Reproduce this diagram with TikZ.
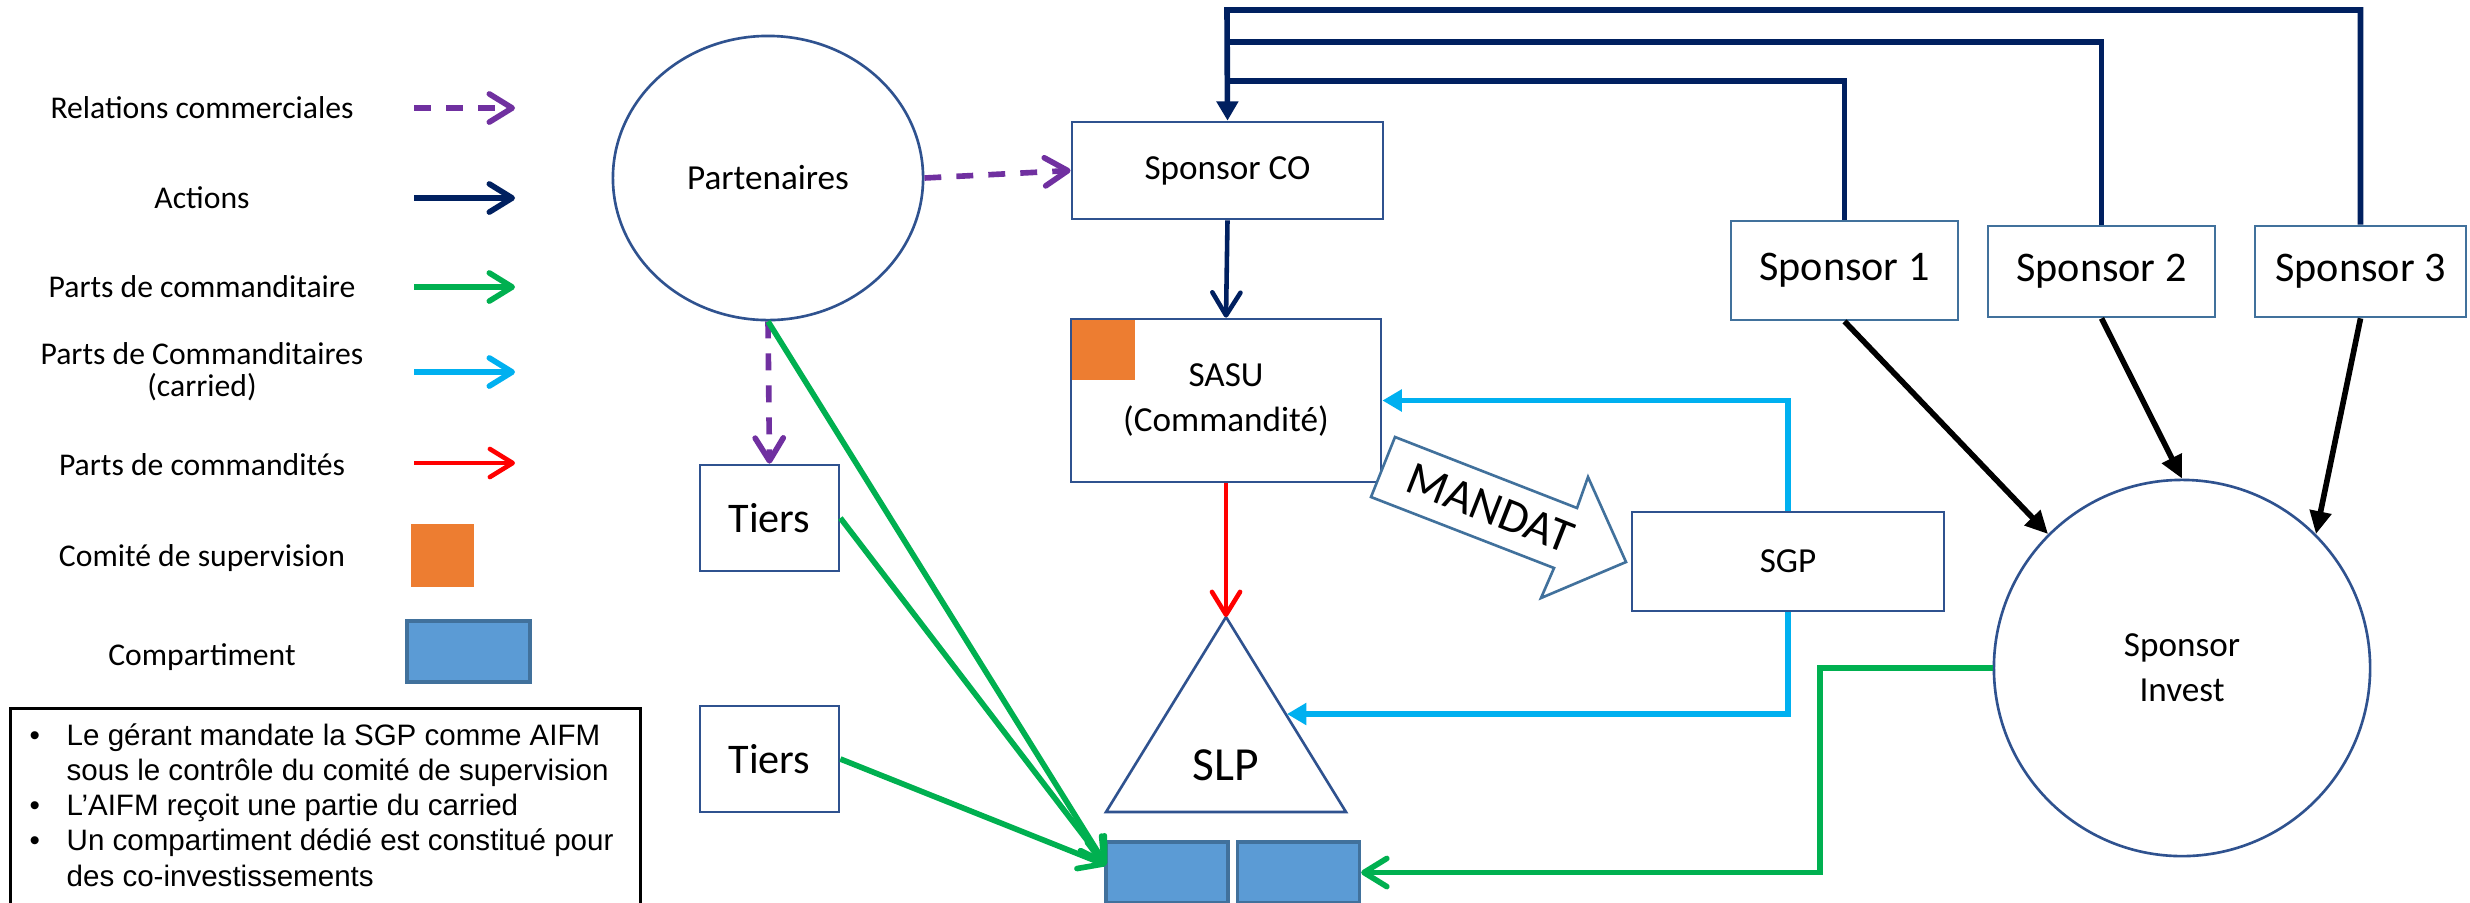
\documentclass[tikz,border=0pt]{standalone}
\usepackage{fontspec}
\setmainfont{Carlito}
\newfontfamily\notefont{Liberation Sans}
\usetikzlibrary{arrows.meta,shapes.geometric}
\definecolor{cborder}{HTML}{2F528F}
\definecolor{clight}{HTML}{41719C}
\definecolor{cblue}{HTML}{5B9BD5}
\definecolor{corange}{HTML}{ED7D31}
\definecolor{cnavy}{HTML}{002060}
\definecolor{cpurple}{HTML}{7030A0}
\definecolor{cgreen}{HTML}{00B050}
\definecolor{ccyan}{HTML}{00B0F0}
\definecolor{cred}{HTML}{FF0000}
\begin{document}
\begin{tikzpicture}[x=0.01cm,y=-0.01cm,
	box/.style={draw=cborder,line width=0.75pt,fill=white,inner sep=0pt,align=center,font=\fontsize{10}{12.8}\selectfont},
	bigbox/.style={box,draw=clight,font=\fontsize{12}{14}\selectfont},
	legtext/.style={align=center,font=\fontsize{9}{9}\selectfont},
	comp/.style={fill=cblue,draw=clight,line width=0.9pt,inner sep=0pt,minimum width=1.22cm,minimum height=0.61cm},
	opentip/.style={-{Straight Barb[length=6.5pt,width=8pt,round]}},
	filltip/.style={-{Triangle[length=5.5pt,width=6pt]}},
	commerce/.style={cpurple,line width=1.6pt,dash pattern=on 4.8pt off 4.3pt},
	actions/.style={cnavy,line width=1.6pt},
	lp/.style={cgreen,line width=1.6pt},
	carried/.style={ccyan,line width=1.6pt},
	gp/.style={cred,line width=1.3pt},
	sponsorline/.style={black,line width=1.6pt,-{Triangle[length=6.5pt,width=6pt]}}]
	\useasboundingbox (0,0) rectangle (2470,902);
	\fill[white] (0,0) rectangle (2470,902);

	\node[legtext] (lrel) at (202,108) {Relations commerciales};
	\node[legtext] (lact) at (202,198) {Actions};
	\node[legtext] (llp) at (202,287) {Parts de commanditaire};
	\node[legtext] (lcar) at (202,372) {Parts de Commanditaires\\(carried)};
	\node[legtext] (lgp) at (202,465) {Parts de commandités};
	\node[legtext] (lcom) at (202,558) {Comité de supervision};
	\node[legtext] (lcpt) at (202,657) {Compartiment};
	\foreach \n/\y/\s in {1/108/commerce,2/198/actions,3/287/lp,4/372/carried,5/463/gp}{
		\coordinate (leg\n a) at (414,\y);
		\coordinate (leg\n b) at (515,\y);
		\draw[\s,opentip] (leg\n a) -- (leg\n b);
	}
	\node[fill=corange,inner sep=0pt,minimum width=0.63cm,minimum height=0.63cm] (lcomite) at (442.5,555.5) {};
	\node[comp,minimum width=1.23cm] (lcomp) at (468.5,651.5) {};

	\node[draw,line width=0.8pt,anchor=north west,inner sep=0pt,minimum width=6.30cm,minimum height=2.2cm] (note) at (9,707) {};
	\node[anchor=north west,inner sep=0pt,font=\notefont\fontsize{8.4}{10}\selectfont] (notetext) at (29,720) {%
		\begin{tabular}{@{}p{0.37cm}@{}l@{}}
		\textbullet & Le gérant mandate la SGP comme AIFM\\
		 & sous le contrôle du comité de supervision\\
		\textbullet & L’AIFM reçoit une partie du carried\\
		\textbullet & Un compartiment dédié est constitué pour\\
		 & des co-investissements
		\end{tabular}};

	\node[ellipse,draw=cborder,line width=0.75pt,minimum width=3.1cm,minimum height=2.84cm,inner sep=0pt,font=\fontsize{10}{12}\selectfont] (part) at (768,178) {Partenaires};
	\node[box,minimum width=3.11cm,minimum height=0.97cm] (co) at (1227.5,170.5) {Sponsor CO};
	\node[box,minimum width=3.10cm,minimum height=1.63cm] (sasu) at (1226,400.5) {SASU\\(Commandité)};
	\node[fill=corange,anchor=north west,inner sep=0pt,minimum width=0.63cm,minimum height=0.6cm] (comite) at ([xshift=0.02cm,yshift=-0.02cm]sasu.north west) {};
	\node[bigbox,draw=cborder,minimum width=1.39cm,minimum height=1.06cm] (tiers1) at (769.5,518) {Tiers};
	\node[bigbox,draw=cborder,minimum width=1.39cm,minimum height=1.06cm] (tiers2) at (769.5,759) {Tiers};
	\node[bigbox,minimum width=2.27cm,minimum height=0.99cm] (s1) at (1844.5,270.5) {Sponsor 1};
	\node[bigbox,minimum width=2.27cm,minimum height=0.91cm] (s2) at (2101.5,271.5) {Sponsor 2};
	\node[bigbox,minimum width=2.11cm,minimum height=0.91cm] (s3) at (2360.5,271.5) {Sponsor 3};
	\node[box,minimum width=3.12cm,minimum height=0.99cm] (sgp) at (1788,561.5) {SGP};
	\node[circle,draw=cborder,line width=0.75pt,minimum size=3.76cm,inner sep=0pt,align=center,font=\fontsize{10}{12.8}\selectfont] (si) at (2182,668) {Sponsor\\Invest};

	\coordinate (slptop) at (1226,617);
	\coordinate (slpleft) at (1106,812);
	\coordinate (slpright) at (1346,812);
	\coordinate (slpin) at (1287,714);
	\draw[cborder,line width=0.75pt] (slptop) -- (slpleft) -- (slpright) -- cycle;
	\node[font=\fontsize{13.5}{15}\selectfont] (slp) at (1226,765) {SLP};
	\node[comp] (comp1) at (1167,872.5) {};
	\node[comp] (comp2) at (1298.5,872.5) {};
	\coordinate (inlet) at (1106,865);

	\draw[clight,line width=0.75pt,fill=white] (1395,437) -- (1577,508) -- (1588,477) -- (1626,562) -- (1541,598) -- (1554,568) -- (1371,497) -- cycle;
	\node[rotate=-21.4,font=\fontsize{13.5}{15}\selectfont] (mandat) at (1490,508) {MANDAT};

	\coordinate (h1) at (1227,81);
	\coordinate (h2) at (1227,42);
	\coordinate (h3) at (1227,10);
	\coordinate (gx) at (1820,0);
	\draw[actions] (s1.north) |- (h1);
	\draw[actions] (s2.north) |- (h2);
	\draw[actions,filltip] (s3.north) |- (h3) -- (co.north);
	\draw[actions,line width=1.3pt,opentip] (co.south) -- (sasu.north);
	\draw[commerce,opentip] (part.east) -- (co.west);
	\draw[commerce,opentip] (part.south) -- (tiers1.north);
	\draw[gp,opentip] (sasu.south) -- (slptop);
	\draw[lp,opentip] (part.south) -- (inlet);
	\draw[lp,opentip] (tiers1.east) -- (inlet);
	\draw[lp,opentip] (tiers2.east) -- (inlet);
	\draw[lp,opentip] (si.west) -- (si.west -| gx) |- (comp2.east);
	\draw[carried,filltip] (sgp.north) |- (sasu.east);
	\draw[carried,filltip] (sgp.south) |- (slpin);
	\draw[sponsorline] (s1.south) -- (si.135);
	\draw[sponsorline] (s2.south) -- (si.north);
	\draw[sponsorline] (s3.south) -- (si.45);
\end{tikzpicture}
\end{document}
